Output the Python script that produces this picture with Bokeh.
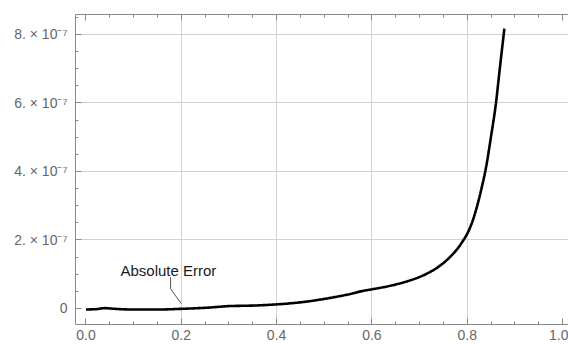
import numpy as np
from bokeh.plotting import figure
from bokeh.models import (LinearAxis, FixedTicker, CustomJSTickFormatter, Label,
                          Range1d, ColumnDataSource, Grid)
from bokeh.embed import file_html
from bokeh.resources import INLINE

# ---- data ----
x_vals = [0.0, 0.02, 0.04, 0.06, 0.10, 0.15, 0.20, 0.25, 0.28, 0.30, 0.35, 0.40,
          0.45, 0.50, 0.55, 0.58, 0.60, 0.62, 0.65, 0.68, 0.70, 0.72, 0.74, 0.76,
          0.78, 0.79, 0.80, 0.81, 0.82, 0.83, 0.84, 0.85, 0.86, 0.868, 0.878]
err_vals = [-0.03e-7, -0.02e-7, 0.01e-7, -0.01e-7, -0.03e-7, -0.03e-7, -0.01e-7,
            0.02e-7, 0.05e-7, 0.07e-7, 0.085e-7, 0.12e-7, 0.18e-7, 0.28e-7, 0.41e-7,
            0.51e-7, 0.56e-7, 0.61e-7, 0.70e-7, 0.82e-7, 0.92e-7, 1.05e-7, 1.22e-7,
            1.45e-7, 1.75e-7, 1.95e-7, 2.18e-7, 2.50e-7, 2.95e-7, 3.50e-7, 4.15e-7,
            5.02e-7, 5.95e-7, 6.95e-7, 8.17e-7]
x_major = [0.0, 0.2, 0.4, 0.6, 0.8, 1.0]
y_major = [0.0, 2e-7, 4e-7, 6e-7, 8e-7]
x_grid = [0.2, 0.4, 0.6, 0.8]
y_grid = [2e-7, 4e-7, 6e-7, 8e-7]
label_text = "Absolute Error"
label_at_x = 0.2

x_minor = [round(v, 3) for v in np.arange(0.0, 1.0001, 0.05) if round(v / 0.2, 6) % 1 != 0]
y_minor = [v * 1e-7 for v in np.arange(-0.5, 8.51, 0.5) if abs(v % 2) > 1e-9]

FRAME = "#8a8a8a"
LABEL = "#666666"
GRID = "#d2d2d2"
TICK_FONT = "Liberation Sans"

# smooth the read points for drawing (monotone cubic through the read values)
xs = np.array(x_vals)
ys = np.array(err_vals)
def pchip(x, y, xn):
    h = np.diff(x); d = np.diff(y) / h
    m = np.zeros_like(y)
    for k in range(1, len(x) - 1):
        if d[k - 1] * d[k] <= 0:
            m[k] = 0.0
        else:
            w1 = 2 * h[k] + h[k - 1]; w2 = h[k] + 2 * h[k - 1]
            m[k] = (w1 + w2) / (w1 / d[k - 1] + w2 / d[k])
    m[0] = d[0]; m[-1] = d[-1]
    idx = np.clip(np.searchsorted(x, xn) - 1, 0, len(x) - 2)
    t = (xn - x[idx]) / h[idx]
    h00 = 2 * t**3 - 3 * t**2 + 1; h10 = t**3 - 2 * t**2 + t
    h01 = -2 * t**3 + 3 * t**2; h11 = t**3 - t**2
    return h00 * y[idx] + h10 * h[idx] * m[idx] + h01 * y[idx + 1] + h11 * h[idx] * m[idx + 1]
xd = np.linspace(xs[0], xs[-1], 400)
yd = pchip(xs, ys, xd)

p = figure(width=568, height=344, output_backend="svg", toolbar_location=None,
           x_range=Range1d(-0.022, 1.0126), y_range=Range1d(-4.67e-8, 8.58e-7),
           x_axis_type=None, y_axis_type=None,
           min_border_left=75, min_border_right=0, min_border_top=14, min_border_bottom=20)
p.outline_line_color = None
p.background_fill_color = "white"
p.border_fill_color = "white"

xt = FixedTicker(ticks=x_major, minor_ticks=x_minor)
yt = FixedTicker(ticks=y_major, minor_ticks=y_minor)

xfmt = CustomJSTickFormatter(code="return tick.toFixed(1);")
yfmt = CustomJSTickFormatter(code="""
if (Math.abs(tick) < 1e-12) return "0";
const m = Math.round(tick * 1e7);
return m + ". \u00d7 10\u207b\u2077";
""")
blank = CustomJSTickFormatter(code="return '';")

def style(ax, standoff):
    ax.axis_line_color = FRAME
    ax.axis_line_width = 1
    ax.major_tick_line_color = FRAME
    ax.minor_tick_line_color = FRAME
    ax.major_tick_in = 6
    ax.major_tick_out = 0
    ax.minor_tick_in = 3
    ax.minor_tick_out = 0
    ax.major_label_standoff = standoff
    ax.major_label_text_color = LABEL
    ax.major_label_text_font = TICK_FONT
    ax.major_label_text_font_size = "14px"

bottom = LinearAxis(ticker=xt, formatter=xfmt)
style(bottom, 5)
p.add_layout(bottom, "below")

left = LinearAxis(ticker=yt, formatter=yfmt)
style(left, 8)
p.add_layout(left, "left")

top = LinearAxis(ticker=xt, formatter=blank)
style(top, 0)
top.major_label_text_font_size = "0px"
p.add_layout(top, "above")

gx = Grid(dimension=0, ticker=FixedTicker(ticks=x_grid), grid_line_color=GRID, grid_line_width=1)
gy = Grid(dimension=1, ticker=FixedTicker(ticks=y_grid), grid_line_color=GRID, grid_line_width=1)
p.add_layout(gx)
p.add_layout(gy)

src = ColumnDataSource(dict(x=xd, y=yd))
p.line("x", "y", source=src, line_color="black", line_width=2.6)

# callout: leader from curve point at label_at_x up to the label
y_at = float(np.interp(label_at_x, x_vals, err_vals))
lx = [label_at_x - 0.0225, label_at_x - 0.0225, label_at_x]
ly = [y_at + 0.92e-7, y_at + 0.585e-7, y_at + 0.15e-7]
p.line(lx, ly, line_color="#555555", line_width=1)

lab = Label(x=label_at_x - 0.027, y=y_at + 1.12e-7, text=label_text,
            text_align="center", text_baseline="alphabetic",
            text_font=TICK_FONT, text_font_size="15px", text_color="#1a1a1a")
p.add_layout(lab)

open("out.html", "w").write(file_html(p, INLINE))
